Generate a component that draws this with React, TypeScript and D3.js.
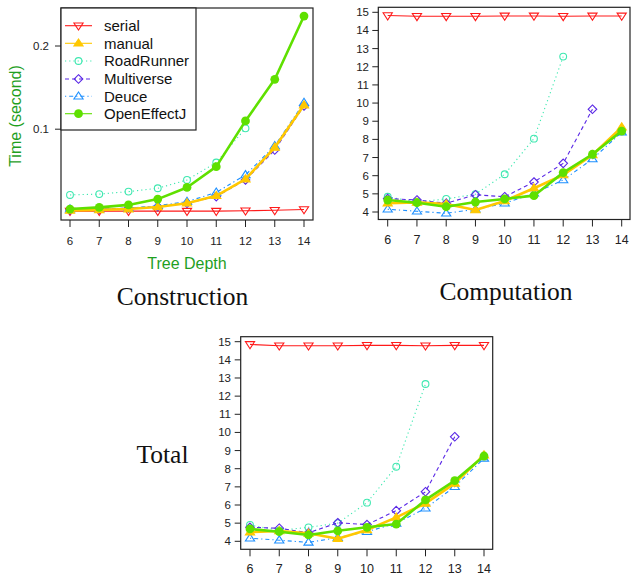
import React from "react";
import * as d3 from "d3";

const depths = [6, 7, 8, 9, 10, 11, 12, 13, 14];

// Construction (seconds)
const conSerial = [0.0015, 0.0015, 0.0015, 0.0015, 0.0015, 0.0015, 0.002, 0.0025, 0.0035];
const conManual = [0.0024, 0.003, 0.004, 0.0065, 0.011, 0.02, 0.04, 0.078, 0.129];
const conRoadRunner = [0.021, 0.022, 0.025, 0.029, 0.039, 0.06, 0.101];
const conMultiverse = [0.003, 0.004, 0.005, 0.007, 0.011, 0.019, 0.039, 0.075, 0.128];
const conDeuce = [0.004, 0.004, 0.005, 0.008, 0.013, 0.024, 0.045, 0.08, 0.132];
const conOpenEffectJ = [0.004, 0.006, 0.009, 0.016, 0.03, 0.055, 0.11, 0.16, 0.236];

// Computation
const comSerial = [14.82, 14.78, 14.78, 14.78, 14.8, 14.8, 14.78, 14.8, 14.8];
const comManual = [4.48, 4.53, 4.44, 4.11, 4.61, 5.31, 6.04, 7.14, 8.67];
const comRoadRunner = [4.84, 4.55, 4.72, 4.98, 6.08, 8.04, 12.56];
const comMultiverse = [4.74, 4.66, 4.48, 4.95, 4.84, 5.65, 6.68, 9.66];
const comDeuce = [4.15, 4.04, 3.93, 4.15, 4.48, 5.03, 5.76, 6.92, 8.39];
const comOpenEffectJ = [4.66, 4.51, 4.29, 4.55, 4.72, 4.9, 6.17, 7.18, 8.46];

// Total
const totSerial = [14.85, 14.78, 14.78, 14.78, 14.8, 14.8, 14.78, 14.8, 14.8];
const totManual = [4.5, 4.57, 4.44, 4.14, 4.62, 5.32, 6.09, 7.19, 8.75];
const totRoadRunner = [4.9, 4.6, 4.77, 5.0, 6.13, 8.11, 12.67];
const totMultiverse = [4.77, 4.72, 4.47, 5.02, 4.92, 5.69, 6.73, 9.76];
const totDeuce = [4.17, 4.06, 3.94, 4.2, 4.53, 4.99, 5.82, 7.01, 8.57];
const totOpenEffectJ = [4.68, 4.53, 4.35, 4.58, 4.77, 4.95, 6.28, 7.34, 8.7];

const conYTicks = [0.1, 0.2];
const bigYTicks = [4, 5, 6, 7, 8, 9, 10, 11, 12, 13, 14, 15];

const seriesNames = ["serial", "manual", "RoadRunner", "Multiverse", "Deuce", "OpenEffectJ"];

type Style = { color: string; width: number; dash: string; marker: string };
const styles: Record<string, Style> = {
  serial: { color: "#ff1a1a", width: 1.1, dash: "", marker: "down" },
  manual: { color: "#ffc800", width: 2.6, dash: "", marker: "upFill" },
  RoadRunner: { color: "#3ee8b0", width: 1.1, dash: "1.2,3", marker: "circle" },
  Multiverse: { color: "#5a28e6", width: 1.1, dash: "4,3", marker: "diamond" },
  Deuce: { color: "#1e90ff", width: 1.1, dash: "1.2,3,4,3", marker: "up" },
  OpenEffectJ: { color: "#5fe000", width: 2.6, dash: "", marker: "circleFill" },
};

const drawOrder = ["serial", "RoadRunner", "Multiverse", "Deuce", "manual", "OpenEffectJ"];

function Marker({ kind, x, y, color }: { kind: string; x: number; y: number; color: string }) {
  const s = 4.6;
  if (kind === "down") {
    return (
      <path
        d={`M${x - s},${y - s * 0.6} L${x + s},${y - s * 0.6} L${x},${y + s * 0.95} Z`}
        fill="white"
        fillOpacity={0}
        stroke={color}
        strokeWidth={1.1}
      />
    );
  }
  if (kind === "up" || kind === "upFill") {
    return (
      <path
        d={`M${x - s},${y + s * 0.6} L${x + s},${y + s * 0.6} L${x},${y - s * 0.95} Z`}
        fill={kind === "upFill" ? color : "none"}
        stroke={color}
        strokeWidth={1.1}
      />
    );
  }
  if (kind === "diamond") {
    const d = 4.3;
    return (
      <path
        d={`M${x},${y - d} L${x + d},${y} L${x},${y + d} L${x - d},${y} Z`}
        fill="none"
        stroke={color}
        strokeWidth={1.1}
      />
    );
  }
  if (kind === "circle") {
    return <circle cx={x} cy={y} r={3.4} fill="none" stroke={color} strokeWidth={1.1} />;
  }
  return <circle cx={x} cy={y} r={4.4} fill={color} />;
}

type PanelProps = {
  box: [number, number, number, number]; // left, top, right, bottom
  xr: [number, number]; // pixel of 6 and 14
  yd: [number, number];
  yr: [number, number];
  yTicks: number[];
  yTickFmt: (v: number) => string;
  yLabelRight: number;
  yFont: number;
  xLabelBase: number;
  xFont: number;
  data: Record<string, number[]>;
};

function Panel(p: PanelProps) {
  const [l, t, r, b] = p.box;
  const x = d3.scaleLinear().domain([6, 14]).range(p.xr);
  const y = d3.scaleLinear().domain(p.yd).range(p.yr);
  const line = d3
    .line<number>()
    .x((_, i) => x(depths[i]))
    .y((v) => y(v));
  return (
    <g>
      {drawOrder.map((name) => {
        const st = styles[name];
        const vals = p.data[name];
        return (
          <g key={name}>
            <path
              d={line(vals) || ""}
              fill="none"
              stroke={st.color}
              strokeWidth={st.width}
              strokeDasharray={st.dash}
              strokeLinejoin="round"
            />
            {vals.map((v, i) => (
              <Marker key={i} kind={st.marker} x={x(depths[i])} y={y(v)} color={st.color} />
            ))}
          </g>
        );
      })}
      <rect x={l} y={t} width={r - l} height={b - t} fill="none" stroke="#222" strokeWidth={1.2} />
      {p.yTicks.map((v) => (
        <g key={v}>
          <line x1={l - 6} x2={l} y1={y(v)} y2={y(v)} stroke="#222" strokeWidth={1} />
          <text
            x={p.yLabelRight}
            y={y(v)}
            dy="0.35em"
            textAnchor="end"
            fontSize={p.yFont}
            fill="#222"
            fontFamily="Liberation Sans, Arial, sans-serif"
          >
            {p.yTickFmt(v)}
          </text>
        </g>
      ))}
      {depths.map((d) => (
        <g key={d}>
          <line x1={x(d)} x2={x(d)} y1={b} y2={b + 7} stroke="#222" strokeWidth={1} />
          <text
            x={x(d)}
            y={p.xLabelBase}
            textAnchor="middle"
            fontSize={p.xFont}
            fill="#222"
            fontFamily="Liberation Sans, Arial, sans-serif"
          >
            {d}
          </text>
        </g>
      ))}
    </g>
  );
}

function Legend() {
  const rows = [25.7, 43.3, 61, 79, 96.3, 113.7];
  return (
    <g>
      <rect x={61} y={8} width={135} height={122} fill="white" stroke="#222" strokeWidth={1.2} />
      {seriesNames.map((name, i) => {
        const st = styles[name];
        const yy = rows[i];
        return (
          <g key={name}>
            <line
              x1={65}
              x2={92}
              y1={yy}
              y2={yy}
              stroke={st.color}
              strokeWidth={1.1}
              strokeDasharray={st.dash}
            />
            <Marker kind={st.marker} x={78.5} y={yy} color={st.color} />
            <text
              x={104}
              y={yy}
              dy="0.36em"
              fontSize={15}
              fill="#111"
              fontFamily="Liberation Sans, Arial, sans-serif"
            >
              {name}
            </text>
          </g>
        );
      })}
    </g>
  );
}

export default function App() {
  const conData = {
    serial: conSerial,
    manual: conManual,
    RoadRunner: conRoadRunner,
    Multiverse: conMultiverse,
    Deuce: conDeuce,
    OpenEffectJ: conOpenEffectJ,
  };
  const comData = {
    serial: comSerial,
    manual: comManual,
    RoadRunner: comRoadRunner,
    Multiverse: comMultiverse,
    Deuce: comDeuce,
    OpenEffectJ: comOpenEffectJ,
  };
  const totData = {
    serial: totSerial,
    manual: totManual,
    RoadRunner: totRoadRunner,
    Multiverse: totMultiverse,
    Deuce: totDeuce,
    OpenEffectJ: totOpenEffectJ,
  };
  const green = "#1fa01f";
  return (
    <svg
      width={631}
      height={576}
      style={{ position: "absolute", left: 0, top: 0, background: "white" }}
    >
      <rect x={0} y={0} width={631} height={576} fill="white" />
      <Panel
        box={[61, 8, 313, 220]}
        xr={[70, 304]}
        yd={[0.1, 0.2]}
        yr={[129.2, 46]}
        yTicks={conYTicks}
        yTickFmt={(v) => String(v)}
        yLabelRight={49}
        yFont={11.5}
        xLabelBase={245}
        xFont={11.5}
        data={conData}
      />
      <Legend />
      <text
        x={187}
        y={269}
        textAnchor="middle"
        fontSize={16}
        fill={green}
        fontFamily="Liberation Sans, Arial, sans-serif"
      >
        Tree Depth
      </text>
      <text
        transform="translate(21,116) rotate(-90)"
        textAnchor="middle"
        fontSize={16}
        fill={green}
        fontFamily="Liberation Sans, Arial, sans-serif"
      >
        Time (second)
      </text>
      <text x={182.5} y={305} textAnchor="middle" fontSize={25.5} fontFamily="Liberation Serif, Times New Roman, serif" fill="#111">
        Construction
      </text>

      <Panel
        box={[378.3, 7.3, 630, 219.5]}
        xr={[387.7, 621.7]}
        yd={[4, 15]}
        yr={[212, 12.3]}
        yTicks={bigYTicks}
        yTickFmt={(v) => String(v)}
        yLabelRight={369}
        yFont={11.5}
        xLabelBase={244}
        xFont={12.5}
        data={comData}
      />
      <text x={506} y={300} textAnchor="middle" fontSize={25.5} fontFamily="Liberation Serif, Times New Roman, serif" fill="#111">
        Computation
      </text>

      <Panel
        box={[240.7, 336.7, 492.7, 549.3]}
        xr={[250, 484]}
        yd={[4, 15]}
        yr={[541.3, 341.7]}
        yTicks={bigYTicks}
        yTickFmt={(v) => String(v)}
        yLabelRight={231}
        yFont={11.5}
        xLabelBase={573}
        xFont={12.5}
        data={totData}
      />
      <text x={162.5} y={463} textAnchor="middle" fontSize={25.5} fontFamily="Liberation Serif, Times New Roman, serif" fill="#111">
        Total
      </text>
    </svg>
  );
}
